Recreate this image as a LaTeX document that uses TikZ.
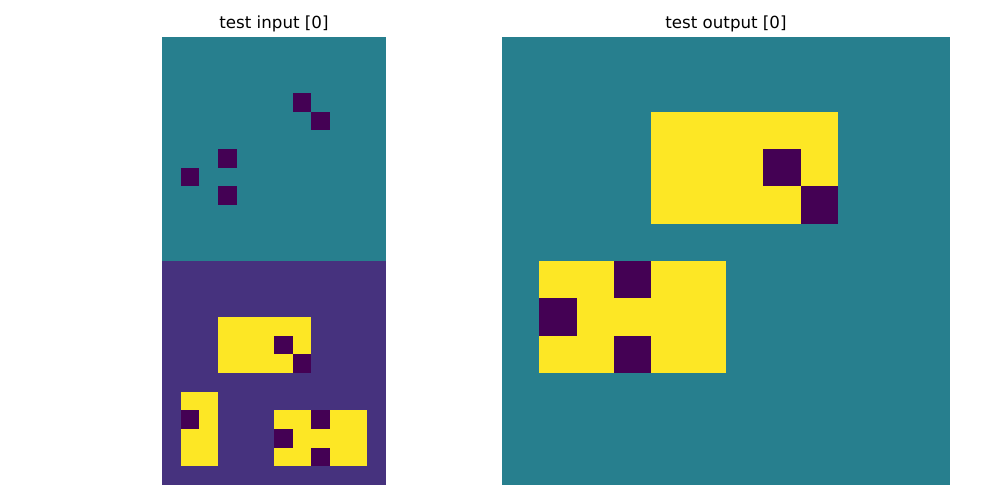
\documentclass[tikz,border=0pt]{standalone}
\usepackage{fontspec}
\setsansfont{DejaVu Sans}
\definecolor{vteal}{HTML}{277F8E}
\definecolor{vpurple}{HTML}{46327E}
\definecolor{vdark}{HTML}{440154}
\definecolor{vyellow}{HTML}{FDE725}
\tikzset{paneltitle/.style={anchor=base,inner sep=0pt,font=\sffamily\fontsize{12}{14}\selectfont}}

\begin{document}
\begin{tikzpicture}[x=0.72pt,y=-0.72pt]
\useasboundingbox (0,0) rectangle (1000,500);
\node[paneltitle] (inTitle) at (274,28.7) {test input [0]};
\node[paneltitle] (outTitle) at (726,28.7) {test output [0]};
% test input, 12 x 24 cells
\begin{scope}[xshift=116.64pt,yshift=-26.64pt,x=13.44pt,y=-13.44pt]
\fill[vteal] (0,0) rectangle (12,12);
\fill[vpurple] (0,12) rectangle (12,24);
\fill[vyellow] (3,15) rectangle (8,18);
\fill[vyellow] (1,19) rectangle (3,23);
\fill[vyellow] (6,20) rectangle (11,23);
\foreach \c/\r in {7/3,8/4,3/6,1/7,3/8,6/16,7/17,1/20,8/20,6/21,8/22}
  \fill[vdark] (\c,\r) rectangle ++(1,1);
\end{scope}
% test output, 12 x 12 cells
\begin{scope}[xshift=361.44pt,yshift=-26.64pt,x=26.88pt,y=-26.88pt]
\fill[vteal] (0,0) rectangle (12,12);
\fill[vyellow] (4,2) rectangle (9,5);
\fill[vyellow] (1,6) rectangle (6,9);
\foreach \c/\r in {7/3,8/4,3/6,1/7,3/8}
  \fill[vdark] (\c,\r) rectangle ++(1,1);
\end{scope}
\end{tikzpicture}
\end{document}
